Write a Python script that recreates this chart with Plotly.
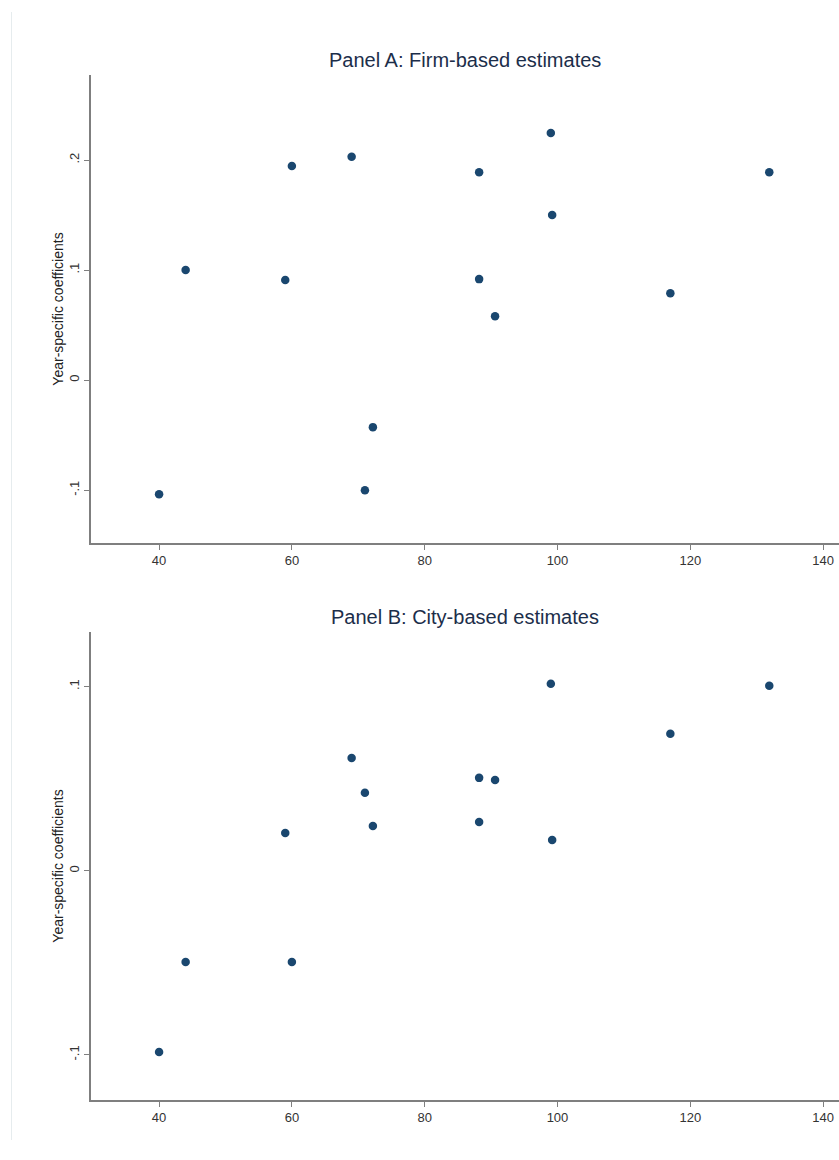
import plotly.graph_objects as go

# Year-level observations shared by both panels
x_vals = [40, 44, 59, 60, 69, 71, 72.2, 88.2, 88.2, 90.6, 99, 99.2, 117, 131.9]
firm_coef = [-0.1036, 0.100, 0.091, 0.1945, 0.203, -0.100, -0.0427,
             0.189, 0.0918, 0.058, 0.2245, 0.150, 0.079, 0.189]
city_coef = [-0.0985, -0.0496, 0.0205, -0.0496, 0.0612, 0.0423, 0.0243,
             0.0504, 0.0265, 0.0493, 0.1015, 0.0167, 0.0743, 0.1004]

x_ticks = [40, 60, 80, 100, 120, 140]
firm_ticks = [-0.1, 0, 0.1, 0.2]
firm_tick_text = ["-.1", "0", ".1", ".2"]
city_ticks = [-0.1, 0, 0.1]
city_tick_text = ["-.1", "0", ".1"]

W, H = 839, 1160
NAVY = "#1a476f"
AXIS = "#7f7f7f"
FONT = "Liberation Sans, Arial, sans-serif"

fig = go.Figure()
fig.add_trace(go.Scatter(x=x_vals, y=firm_coef, mode="markers",
                         marker=dict(color=NAVY, size=8.5), xaxis="x", yaxis="y",
                         showlegend=False))
fig.add_trace(go.Scatter(x=x_vals, y=city_coef, mode="markers",
                         marker=dict(color=NAVY, size=8.5), xaxis="x2", yaxis="y2",
                         showlegend=False))

x_dom = [90.7 / W, 1.0]
a_dom = [1 - 543 / H, 1 - 75 / H]
b_dom = [1 - 1100 / H, 1 - 632 / H]

common_x = dict(range=[29.7, 142.4], tickvals=x_ticks, ticks="outside", ticklen=5,
                tickcolor=AXIS, showline=True, linecolor=AXIS, linewidth=1.5,
                showgrid=False, zeroline=False, domain=x_dom, automargin=False,
                tickfont=dict(family=FONT, size=13, color="#333333"))
common_y = dict(ticks="outside", ticklen=5, tickcolor=AXIS, showline=True,
                linecolor=AXIS, linewidth=1.5, showgrid=False, zeroline=False,
                tickangle=-90, automargin=False,
                tickfont=dict(family=FONT, size=13, color="#333333"),
                title=dict(text="Year-specific coefficients", standoff=0,
                           font=dict(family=FONT, size=14, color="#222222")))

fig.update_layout(
    width=W, height=H,
    margin=dict(l=0, r=0, t=0, b=0),
    paper_bgcolor="white", plot_bgcolor="white",
    font=dict(family=FONT),
    xaxis=dict(anchor="y", **common_x),
    yaxis=dict(domain=a_dom, anchor="x", range=[-0.148, 0.2773],
               tickvals=firm_ticks, ticktext=firm_tick_text, **common_y),
    xaxis2=dict(anchor="y2", **common_x),
    yaxis2=dict(domain=b_dom, anchor="x2", range=[-0.1245, 0.1296],
                tickvals=city_ticks, ticktext=city_tick_text, **common_y),
    annotations=[
        dict(text="Panel A: Firm-based estimates", xref="paper", yref="paper",
             x=(x_dom[0] + x_dom[1]) / 2, y=1 - 60 / H, yanchor="middle",
             showarrow=False, font=dict(family=FONT, size=20, color="#1c2e4a")),
        dict(text="Panel B: City-based estimates", xref="paper", yref="paper",
             x=(x_dom[0] + x_dom[1]) / 2, y=1 - 617 / H, yanchor="middle",
             showarrow=False, font=dict(family=FONT, size=20, color="#1c2e4a")),
    ],
    shapes=[
        dict(type="line", xref="paper", yref="paper", x0=11.5 / W, x1=11.5 / W,
             y0=1 - 12 / H, y1=1 - 1140 / H, line=dict(color="#e6ecee", width=1)),
    ],
)

fig.write_html("out.html")
